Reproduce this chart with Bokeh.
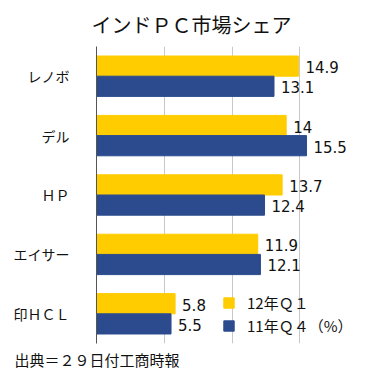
from bokeh.plotting import figure
from bokeh.models import (ColumnDataSource, FactorRange, Range1d, FixedTicker,
                          LabelSet, Legend, LegendItem, Title)
from bokeh.transform import dodge
from bokeh.embed import file_html
from bokeh.resources import INLINE
from bokeh.core.properties import value

companies = ["レノボ", "デル", "ＨＰ", "エイサー", "印ＨＣＬ"]
q1_2012 = [14.9, 14, 13.7, 11.9, 5.8]
q4_2011 = [13.1, 15.5, 12.4, 12.1, 5.5]
series_names = ["12年Ｑ１", "11年Ｑ４（%）"]
x_ticks = [0, 5, 10, 15, 20]
title_text = "インドＰＣ市場シェア"
source_text = "出典＝２９日付工商時報"

FONT = "Noto Sans CJK JP"
NUMFONT = "DejaVu Sans"
YELLOW = "#FFCC00"
BLUE = "#2C4B8F"
TXT = "#111111"

src = ColumnDataSource(dict(
    company=companies,
    a=q1_2012,
    b=q4_2011,
    a_lbl=[f"{v:g}" for v in q1_2012],
    b_lbl=[f"{v:g}" for v in q4_2011],
))

p = figure(width=382, height=377, output_backend="svg", toolbar_location=None,
           y_range=FactorRange(factors=companies[::-1]),
           x_range=Range1d(0, 20),
           min_border_left=96, min_border_right=15, min_border_top=43,
           min_border_bottom=34)

p.title.text = title_text
p.title.text_font = FONT
p.title.text_font_size = "20px"
p.title.text_font_style = "normal"
p.title.text_color = TXT
p.title.align = "left"
p.title.offset = -5
p.title.standoff = 15

bh = 0.34
ra = p.hbar(y=dodge("company", 0.17, range=p.y_range), right="a", left=0,
            height=bh, color=YELLOW, source=src)
rb = p.hbar(y=dodge("company", -0.17, range=p.y_range), right="b", left=0,
            height=bh, color=BLUE, source=src)

for col, lbl, off in (("a", "a_lbl", 0.17), ("b", "b_lbl", -0.17)):
    ls = LabelSet(x=col, y=dodge("company", off, range=p.y_range), text=lbl,
                  x_offset=7, y_offset=-1, source=src,
                  text_font=value(NUMFONT), text_font_size="15px",
                  text_baseline="middle", text_align="left",
                  text_color=TXT)
    p.add_layout(ls)

p.xaxis.visible = False
p.xaxis.ticker = FixedTicker(ticks=x_ticks)
p.xgrid.ticker = FixedTicker(ticks=x_ticks)
p.xgrid.grid_line_color = "#C8C8C8"
p.ygrid.grid_line_color = None

p.yaxis.axis_line_color = "#555555"
p.yaxis.major_tick_line_color = None
p.yaxis.minor_tick_line_color = None
p.yaxis.major_label_standoff = 21
p.yaxis.major_label_text_font = FONT
p.yaxis.major_label_text_font_size = "14px"
p.yaxis.major_label_text_color = TXT

p.outline_line_color = None

legend = Legend(items=[LegendItem(label=series_names[0], renderers=[ra]),
                       LegendItem(label=series_names[1], renderers=[rb])],
                location=(122, 3), orientation="vertical",
                glyph_width=13, glyph_height=13, label_height=20,
                spacing=2, padding=4, margin=0, label_standoff=12,
                label_text_font=FONT, label_text_font_size="15px",
                label_text_color=TXT,
                background_fill_alpha=0, border_line_alpha=0)
p.add_layout(legend, "center")

footer = Title(text=source_text, align="left", offset=-82, standoff=6,
               text_font=FONT, text_font_size="15px", text_font_style="normal",
               text_color=TXT)
p.add_layout(footer, "below")

open("out.html", "w").write(file_html(p, INLINE))
